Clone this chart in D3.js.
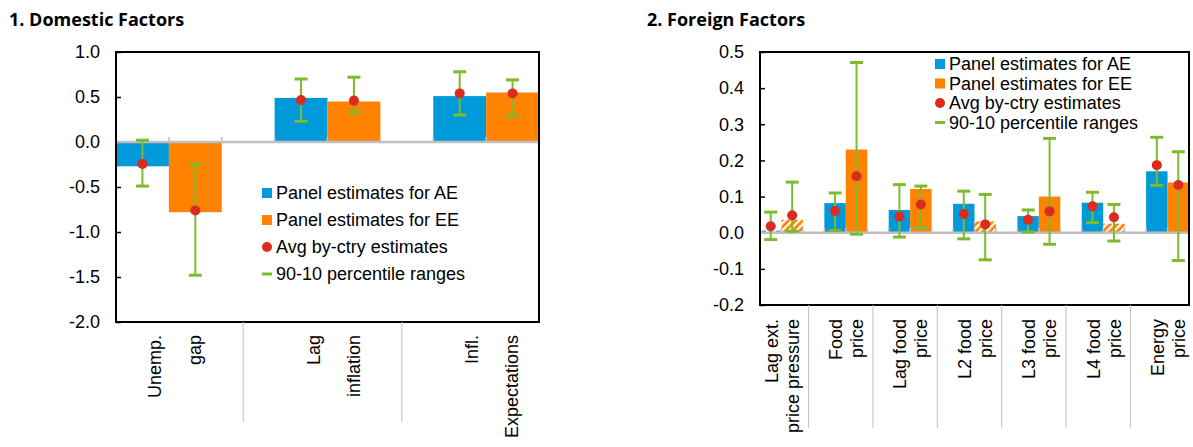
<!DOCTYPE html>
<html>
<head>
<meta charset="utf-8">
<script src="https://cdn.jsdelivr.net/npm/d3@7"></script>
<style>
  body { margin: 0; background: #fff; }
  svg text { font-family: "Liberation Sans", Arial, sans-serif; fill: #000; }
</style>
</head>
<body>
<div id="chart"></div>
<script>
// ---- data: domestic factors ----
const domLabels = [["Unemp.", "gap"], ["Lag", "inflation"], ["Infl.", "Expectations"]];
const domAE = [-0.27, 0.49, 0.51];
const domEE = [-0.78, 0.45, 0.55];
const domAvgAE = [-0.245, 0.467, 0.54];
const domAvgEE = [-0.76, 0.46, 0.54];
const domLoAE = [-0.49, 0.23, 0.30];
const domHiAE = [0.02, 0.70, 0.78];
const domLoEE = [-1.48, 0.33, 0.29];
const domHiEE = [-0.25, 0.72, 0.69];
const domSigAE = [true, true, true];
const domSigEE = [true, true, true];

// ---- data: foreign factors ----
const forLabels = [
  ["Lag ext.", "price pressure"], ["Food", "price"], ["Lag food", "price"],
  ["L2 food", "price"], ["L3 food", "price"], ["L4 food", "price"], ["Energy", "price"]
];
const forAE = [0.006, 0.082, 0.063, 0.080, 0.046, 0.083, 0.170];
const forEE = [0.036, 0.230, 0.121, 0.031, 0.100, 0.025, 0.139];
const forAvgAE = [0.018, 0.060, 0.045, 0.052, 0.036, 0.073, 0.187];
const forAvgEE = [0.048, 0.156, 0.078, 0.023, 0.059, 0.043, 0.132];
const forLoAE = [-0.019, 0.006, -0.012, -0.017, 0.002, 0.028, 0.131];
const forHiAE = [0.057, 0.110, 0.133, 0.115, 0.063, 0.112, 0.264];
const forLoEE = [0.004, -0.004, 0.014, -0.075, -0.032, -0.023, -0.077];
const forHiEE = [0.140, 0.471, 0.129, 0.106, 0.261, 0.078, 0.224];
const forSigAE = [false, true, true, true, true, true, true];
const forSigEE = [false, true, true, false, true, false, true];

const legendItems = ["Panel estimates for AE", "Panel estimates for EE", "Avg by-ctry estimates", "90-10 percentile ranges"];

const BLUE = "#009ADA", ORANGE = "#FF8300", GREEN = "#7CBB2C", RED = "#DC2A1F", GREY = "#C0C0C0";

const svg = d3.select("#chart").append("svg")
  .attr("width", 1193).attr("height", 447)
  .style("display", "block");

// hatch patterns for the non-significant bars
const defs = svg.append("defs");
function hatch(id, color) {
  const p = defs.append("pattern")
    .attr("id", id)
    .attr("patternUnits", "userSpaceOnUse")
    .attr("width", 5).attr("height", 5)
    .attr("patternTransform", "rotate(45)");
  p.append("rect").attr("width", 5).attr("height", 5).attr("fill", color);
  p.append("rect").attr("width", 2.2).attr("height", 5).attr("fill", "#fff");
}
hatch("hatchAE", BLUE);
hatch("hatchEE", ORANGE);

function drawPanel(p) {
  const g = svg.append("g");

  // title
  svg.append("text")
    .attr("x", p.titleX).attr("y", 26)
    .style("font-family", "'Open Sans', sans-serif")
    .style("font-size", "18px")
    .style("font-weight", "700")
    .text(p.title);

  const x = d3.scaleBand()
    .domain(p.labels.map((d, i) => i))
    .range([p.left, p.right])
    .paddingInner(1 / 3)
    .paddingOuter(0);
  const sub = d3.scaleBand().domain(["AE", "EE"]).range([0, x.bandwidth()]);
  const y = d3.scaleLinear().domain(p.domain).range([p.bottom, p.top]);

  const rows = p.labels.flatMap((d, i) => [
    { i, k: "AE", bar: p.ae[i], avg: p.avgAE[i], lo: p.loAE[i], hi: p.hiAE[i], sig: p.sigAE[i] },
    { i, k: "EE", bar: p.ee[i], avg: p.avgEE[i], lo: p.loEE[i], hi: p.hiEE[i], sig: p.sigEE[i] },
  ]);
  const cx = (d) => x(d.i) + sub(d.k) + sub.bandwidth() / 2;

  // y axis (inner ticks, labels outside)
  const yAxis = g.append("g")
    .attr("transform", `translate(${p.left},0)`)
    .call(d3.axisLeft(y)
      .tickValues(y.ticks(p.nTicks))
      .tickSize(-5)
      .tickPadding(16)
      .tickFormat((d) => d.toFixed(1)));
  yAxis.select(".domain").remove();
  yAxis.selectAll("line").attr("stroke", "#000").attr("stroke-width", 1.5);
  yAxis.selectAll("text")
    .style("font-family", "'Liberation Sans', Arial, sans-serif")
    .style("font-size", "18px")
    .attr("fill", "#000");

  // bars
  g.append("g").selectAll("rect")
    .data(rows)
    .join("rect")
    .attr("x", (d) => x(d.i) + sub(d.k))
    .attr("width", sub.bandwidth())
    .attr("y", (d) => y(Math.max(0, d.bar)))
    .attr("height", (d) => Math.abs(y(d.bar) - y(0)))
    .attr("fill", (d) => d.sig ? (d.k === "AE" ? BLUE : ORANGE) : `url(#hatch${d.k})`);

  // zero line with category tick marks
  g.append("line")
    .attr("x1", p.left).attr("x2", p.right)
    .attr("y1", y(0)).attr("y2", y(0))
    .attr("stroke", GREY).attr("stroke-width", 2.5);
  const slotEdges = p.labels.flatMap((d, i) => [x(i), x(i) + sub.bandwidth(), x(i) + x.bandwidth()]);
  g.append("g").selectAll("line")
    .data(slotEdges)
    .join("line")
    .attr("x1", (d) => d).attr("x2", (d) => d)
    .attr("y1", y(0)).attr("y2", y(0) - 5)
    .attr("stroke", GREY).attr("stroke-width", 1.5);

  // percentile ranges
  const eb = g.append("g").attr("stroke", GREEN);
  eb.selectAll("line.v")
    .data(rows)
    .join("line")
    .attr("class", "v")
    .attr("x1", cx).attr("x2", cx)
    .attr("y1", (d) => y(d.lo)).attr("y2", (d) => y(d.hi))
    .attr("stroke-width", 2);
  eb.selectAll("line.cap")
    .data(rows.flatMap((d) => [{ d, v: d.lo }, { d, v: d.hi }]))
    .join("line")
    .attr("class", "cap")
    .attr("x1", (c) => cx(c.d) - 6.5).attr("x2", (c) => cx(c.d) + 6.5)
    .attr("y1", (c) => y(c.v)).attr("y2", (c) => y(c.v))
    .attr("stroke-width", 3);

  // by-country averages
  g.append("g").selectAll("circle")
    .data(rows)
    .join("circle")
    .attr("cx", cx)
    .attr("cy", (d) => y(d.avg))
    .attr("r", 5)
    .attr("fill", RED);

  // plot border
  g.append("rect")
    .attr("x", p.left).attr("y", p.top)
    .attr("width", p.right - p.left).attr("height", p.bottom - p.top)
    .attr("fill", "none").attr("stroke", "#000").attr("stroke-width", 2);

  // category labels, rotated
  p.labels.forEach((lines, i) => {
    lines.forEach((t, j) => {
      const lx = x(i) + x.bandwidth() / 2 + p.lineOffsets[j];
      g.append("text")
        .attr("transform", `translate(${lx},${p.bottom + p.labelGap}) rotate(-90)`)
        .attr("text-anchor", "end")
        .attr("dy", "0.35em")
        .style("font-size", "18px")
        .text(t);
    });
  });

  // group dividers below the axis
  const gapW = x.step() - x.bandwidth();
  g.append("g").selectAll("line")
    .data(p.labels.slice(0, -1).map((d, i) => x(i) + x.bandwidth() + gapW / 2 - 5))
    .join("line")
    .attr("x1", (d) => d).attr("x2", (d) => d)
    .attr("y1", p.bottom).attr("y2", p.divBottom)
    .attr("stroke", GREY).attr("stroke-width", 1);

  // legend
  const lg = g.append("g").attr("transform", `translate(${p.legX},${p.legY})`);
  legendItems.forEach((t, j) => {
    const row = lg.append("g").attr("transform", `translate(0,${j * p.legStep})`);
    if (j < 2) {
      row.append("rect").attr("x", 0).attr("y", -5).attr("width", 10).attr("height", 10)
        .attr("fill", j === 0 ? BLUE : ORANGE);
    } else if (j === 2) {
      row.append("circle").attr("cx", 5).attr("cy", 0).attr("r", 5).attr("fill", RED);
    } else {
      row.append("line").attr("x1", 0).attr("x2", 10).attr("y1", 0).attr("y2", 0)
        .attr("stroke", GREEN).attr("stroke-width", 3);
    }
    row.append("text")
      .attr("x", 14).attr("dy", "0.35em")
      .style("font-size", "18px")
      .text(t);
  });
}

drawPanel({
  title: "1. Domestic Factors", titleX: 9,
  labels: domLabels, ae: domAE, ee: domEE, avgAE: domAvgAE, avgEE: domAvgEE,
  loAE: domLoAE, hiAE: domHiAE, loEE: domLoEE, hiEE: domHiEE, sigAE: domSigAE, sigEE: domSigEE,
  left: 116, right: 539, top: 52, bottom: 322, domain: [-2, 1], nTicks: 6,
  lineOffsets: [-14, 26], labelGap: 13, divBottom: 422,
  legX: 262, legY: 193, legStep: 27,
});

drawPanel({
  title: "2. Foreign Factors", titleX: 647,
  labels: forLabels, ae: forAE, ee: forEE, avgAE: forAvgAE, avgEE: forAvgEE,
  loAE: forLoAE, hiAE: forHiAE, loEE: forLoEE, hiEE: forHiEE, sigAE: forSigAE, sigEE: forSigEE,
  left: 760, right: 1189, top: 52, bottom: 305, domain: [-0.2, 0.5], nTicks: 7,
  lineOffsets: [-10, 11], labelGap: 14, divBottom: 428,
  legX: 935, legY: 64, legStep: 19.5,
});
</script>
</body>
</html>
